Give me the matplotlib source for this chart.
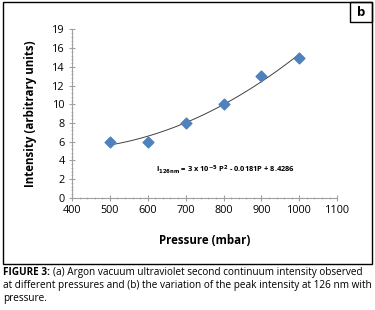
import numpy as np
import matplotlib
matplotlib.use("Agg")
import matplotlib.pyplot as plt
from matplotlib.ticker import MultipleLocator, FixedLocator, FixedFormatter
from matplotlib.patches import Rectangle

# datos
presion = [500, 600, 700, 800, 900, 1000]
intensidad = [6, 6, 8, 10, 13, 15]
xticks = [400, 500, 600, 700, 800, 900, 1000, 1100]
yticks = [0, 2, 4, 6, 8, 10, 12, 14, 16, 18]
ytick_labels = ["0", "2", "4", "6", "8", "10", "12", "14", "16", "19"]

plt.rcParams['font.family'] = ['Open Sans', 'DejaVu Sans']
plt.rcParams['mathtext.default'] = 'bf'

fig = plt.figure(figsize=(3.75, 3.1), dpi=100)
ax = fig.add_axes([0.192, 0.362, 0.707, 0.543])

ax.scatter(presion, intensidad, marker='D', s=30, color='#4F81BD', zorder=3)

# linea de tendencia polinomica (orden 2)
coef = np.polyfit(presion, intensidad, 2)
xx = np.linspace(500, 1000, 100)
ax.plot(xx, np.polyval(coef, xx), color='#404040', lw=0.7, zorder=2)

ax.set_xlim(400, 1100)
ax.set_ylim(0, 18)
ax.set_xticks(xticks)
ax.yaxis.set_major_locator(FixedLocator(yticks))
ax.yaxis.set_major_formatter(FixedFormatter(ytick_labels))
ax.xaxis.set_minor_locator(MultipleLocator(20))
ax.yaxis.set_minor_locator(MultipleLocator(0.4))
for s in ['top', 'right']:
    ax.spines[s].set_visible(False)
for s in ['left', 'bottom']:
    ax.spines[s].set_color('#A0A0A0')
    ax.spines[s].set_linewidth(0.8)
ax.tick_params(which='major', length=4, color='#A0A0A0', labelsize=7.8, pad=3)
ax.tick_params(which='minor', length=2, color='#B0B0B0')
ax.tick_params(axis='both', which='both', direction='inout')

ax.set_xlabel("Pressure (mbar)", fontsize=8.3, fontweight='bold', labelpad=13)
ax.set_ylabel("Intensity (arbitrary units)", fontsize=8.3, fontweight='bold', labelpad=11)

ax.text(806, 3.0, r"I$_{126nm}$ = 3 x 10$^{-5}$ P$^{2}$ - 0.0181P + 8.4286",
        fontsize=5.4, fontweight='bold', ha='center', va='center')

# marco exterior y recuadro "b"
fig.patches.append(Rectangle((0.008, 0.148), 0.984, 0.845, transform=fig.transFigure,
                             fill=False, lw=1.0, color='black'))
fig.patches.append(Rectangle((0.933, 0.928), 0.059, 0.065, transform=fig.transFigure,
                             fill=False, lw=1.0, color='black'))
fig.text(0.962, 0.961, "b", fontsize=9.5, fontweight='bold', ha='center', va='center')

# pie de figura
fs_cap = 7.2
t1 = fig.text(0.008, 0.122, "FIGURE 3:", fontsize=fs_cap, fontweight='bold', va='center')
fig.canvas.draw()
bb = t1.get_window_extent()
x1 = (bb.x1 + 3) / fig.bbox.width
fig.text(x1, 0.122, "(a) Argon vacuum ultraviolet second continuum intensity observed",
         fontsize=fs_cap, va='center')
fig.text(0.008, 0.080, "at different pressures and (b) the variation of the peak intensity at 126 nm with",
         fontsize=fs_cap, va='center')
fig.text(0.008, 0.038, "pressure.", fontsize=fs_cap, va='center')

fig.savefig("out.png", dpi=100)
